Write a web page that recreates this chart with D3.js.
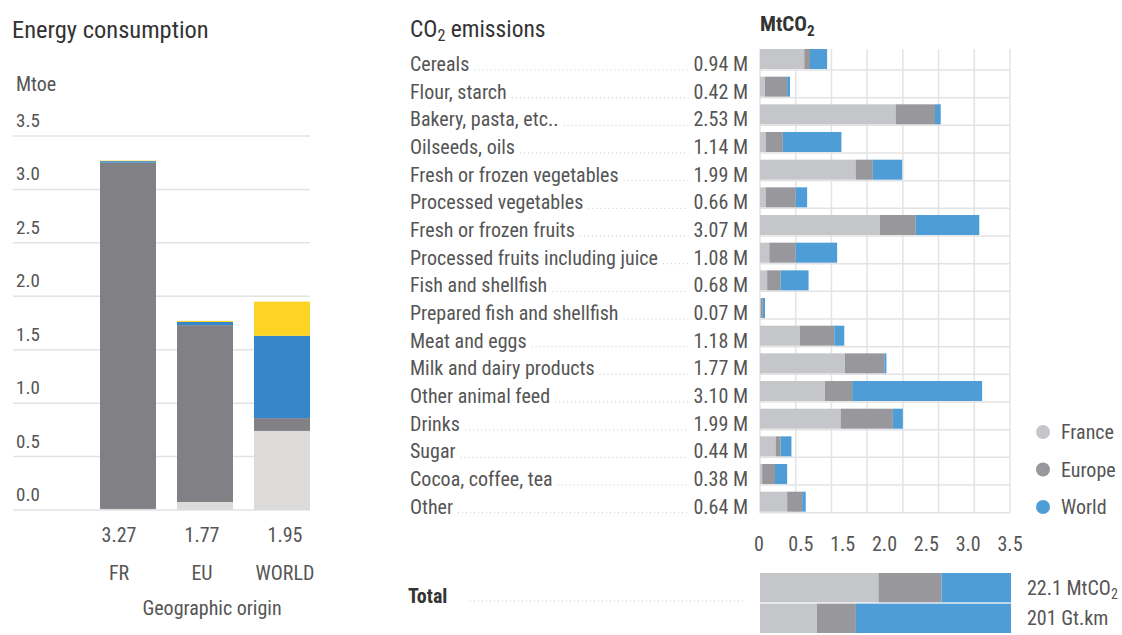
<!DOCTYPE html>
<html><head><meta charset="utf-8">
<script src="https://cdn.jsdelivr.net/npm/d3@7"></script>
<style>
body{margin:0;background:#fff;}
svg text{font-family:"Roboto Condensed","Liberation Sans Narrow","Arial Narrow","Roboto",sans-serif;}
</style></head><body>
<svg id="c" width="1122" height="635"></svg>
<script>
// ---------- data ----------
const energyOrigins = ["FR", "EU", "WORLD"];
const energyTotals = ["3.27", "1.77", "1.95"];
const energyLight = [0.01, 0.075, 0.74];
const energyGrey = [3.24, 1.655, 0.12];
const energyBlue = [0.015, 0.03, 0.77];
const energyYellow = [0.005, 0.01, 0.32];
const energyTicks = [0, 0.5, 1, 1.5, 2, 2.5, 3, 3.5];
const energyTickLabels = ["0.0", "0.5", "1.0", "1.5", "2.0", "2.5", "3.0", "3.5"];

const co2Categories = ["Cereals", "Flour, starch", "Bakery, pasta, etc..", "Oilseeds, oils",
  "Fresh or frozen vegetables", "Processed vegetables", "Fresh or frozen fruits",
  "Processed fruits including juice", "Fish and shellfish", "Prepared fish and shellfish",
  "Meat and eggs", "Milk and dairy products", "Other animal feed", "Drinks", "Sugar",
  "Cocoa, coffee, tea", "Other"];
const co2Labels = ["0.94 M", "0.42 M", "2.53 M", "1.14 M", "1.99 M", "0.66 M", "3.07 M", "1.08 M",
  "0.68 M", "0.07 M", "1.18 M", "1.77 M", "3.10 M", "1.99 M", "0.44 M", "0.38 M", "0.64 M"];
const co2France = [0.62, 0.07, 1.90, 0.08, 1.34, 0.08, 1.68, 0.13, 0.10, 0.01, 0.56, 1.19, 0.91, 1.13, 0.22, 0.03, 0.38];
const co2Europe = [0.08, 0.31, 0.55, 0.24, 0.24, 0.42, 0.50, 0.37, 0.19, 0.03, 0.48, 0.55, 0.38, 0.73, 0.07, 0.18, 0.21];
const co2World  = [0.24, 0.04, 0.08, 0.82, 0.41, 0.16, 0.89, 0.58, 0.39, 0.03, 0.14, 0.03, 1.82, 0.14, 0.15, 0.17, 0.05];
const co2Grid = [0, 0.5, 1, 1.5, 2, 2.5, 3, 3.5];
const co2AxisLabels = ["0", "0.5", "1.5", "2.0", "2.5", "3.0", "3.5"];
const legendKeys = ["France", "Europe", "World"];

const totalKeys = ["co2", "tkm"];
const totalValues = ["22.1", "201"];
const totalUnits = ["MtCO2", "Gt.km"];
const totalFrance = [10.43, 45.6];
const totalEurope = [5.55, 31.2];
const totalWorld  = [6.12, 124.2];

// ---------- styles ----------
const cLight = "#dcdbd9", cGreyE = "#818085", cBlueE = "#3587c9", cYellow = "#fdd324";
const cFr = "#c5c6c9", cEu = "#98979c", cWo = "#4e9dd6";
const grid = "#e3e3e3", txt = "#555", dark = "#333";

const svg = d3.select("#c");

// ---------- Energy consumption ----------
svg.append("text").attr("x", 12).attr("y", 38).attr("font-size", 24.5).attr("fill", dark).text("Energy consumption");
svg.append("text").attr("x", 16).attr("y", 91).attr("font-size", 20).attr("fill", txt).text("Mtoe");

const yE = d3.scaleLinear().domain([0, 3.5]).range([510, 136]);
const xE = d3.scaleBand().domain(energyOrigins).range([100, 310]).paddingInner(0.273).paddingOuter(0);
const xELab = d3.scalePoint().domain(energyOrigins).range([119, 285]);

const gE = svg.append("g");
gE.selectAll("line.g").data(energyTicks).join("line")
  .attr("x1", 13).attr("x2", 310).attr("y1", d => yE(d)).attr("y2", d => yE(d))
  .attr("stroke", grid).attr("stroke-width", 1.5);
gE.selectAll("text.t").data(energyTicks).join("text")
  .attr("x", 16).attr("y", d => yE(d) - 9).attr("font-size", 19).attr("fill", txt)
  .text((d, i) => energyTickLabels[i]);

const eSeries = [energyLight, energyGrey, energyBlue, energyYellow];
const eColors = [cLight, cGreyE, cBlueE, cYellow];
energyOrigins.forEach((o, i) => {
  let acc = 0;
  eSeries.forEach((s, k) => {
    const v = s[i];
    gE.append("rect").attr("x", xE(o)).attr("width", xE.bandwidth())
      .attr("y", yE(acc + v)).attr("height", yE(acc) - yE(acc + v)).attr("fill", eColors[k]);
    acc += v;
  });
});
gE.selectAll("text.v").data(energyOrigins).join("text")
  .attr("x", d => xELab(d)).attr("y", 542).attr("text-anchor", "middle")
  .attr("font-size", 20).attr("fill", txt).text((d, i) => energyTotals[i]);
gE.selectAll("text.c").data(energyOrigins).join("text")
  .attr("x", d => xELab(d)).attr("y", 580).attr("text-anchor", "middle")
  .attr("font-size", 20).attr("fill", txt).text(d => d);
gE.append("text").attr("x", 212).attr("y", 615).attr("text-anchor", "middle")
  .attr("font-size", 20).attr("fill", txt).text("Geographic origin");

// ---------- CO2 emissions ----------
const t1 = svg.append("text").attr("x", 410).attr("y", 37).attr("font-size", 23.5).attr("fill", dark);
t1.append("tspan").text("CO");
t1.append("tspan").attr("font-size", 16).attr("dy", 4).text("2");
t1.append("tspan").attr("dy", -4).text(" emissions");

const t2 = svg.append("text").attr("x", 760).attr("y", 31).attr("font-size", 21).attr("font-weight", "bold").attr("fill", dark);
t2.append("tspan").text("MtCO");
t2.append("tspan").attr("font-size", 15).attr("dy", 5).text("2");

const xC = d3.scaleLinear().domain([0, 3.5]).range([760, 1010]);
const yC = d3.scaleBand().domain(co2Categories).range([49, 511.7]).paddingInner(0.277).paddingOuter(0);
const gC = svg.append("g");

gC.selectAll("line.v").data(co2Grid).join("line")
  .attr("x1", d => xC(d)).attr("x2", d => xC(d)).attr("y1", 49).attr("y2", 513)
  .attr("stroke", grid).attr("stroke-width", 1.5);
gC.selectAll("line.h").data(co2Categories).join("line")
  .attr("x1", 760).attr("x2", 1010).attr("y1", d => yC(d) + yC.bandwidth() + 1).attr("y2", d => yC(d) + yC.bandwidth() + 1)
  .attr("stroke", grid).attr("stroke-width", 1.5);

const cSeries = [co2France, co2Europe, co2World];
const cColors = [cFr, cEu, cWo];
co2Categories.forEach((c, i) => {
  let acc = 0;
  cSeries.forEach((s, k) => {
    const v = s[i];
    gC.append("rect").attr("x", xC(acc)).attr("width", xC(acc + v) - xC(acc))
      .attr("y", yC(c)).attr("height", yC.bandwidth()).attr("fill", cColors[k]);
    acc += v;
  });
});

co2Categories.forEach((c, i) => {
  const by = yC(c) + yC.bandwidth() + 2;
  const lab = gC.append("text").attr("x", 410).attr("y", by).attr("font-size", 20).attr("fill", txt).text(c);
  const val = gC.append("text").attr("x", 748).attr("y", by).attr("font-size", 20).attr("fill", txt)
    .attr("text-anchor", "end").text(co2Labels[i]);
  const lw = lab.node().getComputedTextLength();
  const vw = val.node().getComputedTextLength();
  gC.append("line").attr("x1", 410 + lw + 5).attr("x2", 748 - vw - 5).attr("y1", by - 1).attr("y2", by - 1)
    .attr("stroke", "#c8c8c8").attr("stroke-width", 1).attr("stroke-dasharray", "1,3");
});

const xLab = d3.scalePoint().domain(co2AxisLabels).range([759, 1010]);
gC.selectAll("text.ax").data(co2AxisLabels).join("text")
  .attr("x", d => xLab(d)).attr("y", 551).attr("text-anchor", "middle")
  .attr("font-size", 20).attr("fill", txt).text(d => d);

const lg = svg.append("g");
legendKeys.forEach((k, i) => {
  const y = 432 + i * 37.5;
  lg.append("circle").attr("cx", 1043).attr("cy", y).attr("r", 7).attr("fill", cColors[i]);
  lg.append("text").attr("x", 1061).attr("y", y + 7).attr("font-size", 20).attr("fill", txt).text(k);
});

// ---------- totals ----------
svg.append("text").attr("x", 408).attr("y", 603).attr("font-size", 20).attr("font-weight", "bold").attr("fill", dark).text("Total");
svg.append("line").attr("x1", 470).attr("x2", 745).attr("y1", 601).attr("y2", 601)
  .attr("stroke", "#c8c8c8").attr("stroke-width", 1).attr("stroke-dasharray", "1,3");
const yT = d3.scaleBand().domain(totalKeys).range([573, 633]).paddingInner(0.04);
const tSeries = [totalFrance, totalEurope, totalWorld];
totalKeys.forEach((k, i) => {
  const total = tSeries.reduce((a, s) => a + s[i], 0);
  const xT = d3.scaleLinear().domain([0, total]).range([760, 1011]);
  let acc = 0;
  tSeries.forEach((s, j) => {
    const v = s[i];
    svg.append("rect").attr("x", xT(acc)).attr("width", xT(acc + v) - xT(acc))
      .attr("y", yT(k)).attr("height", yT.bandwidth()).attr("fill", cColors[j]);
    acc += v;
  });
  const t = svg.append("text").attr("x", 1027).attr("y", yT(k) + yT.bandwidth() / 2 + 7)
    .attr("font-size", 20).attr("fill", txt);
  if (totalUnits[i] === "MtCO2") {
    t.append("tspan").text(totalValues[i] + " MtCO");
    t.append("tspan").attr("font-size", 14).attr("dy", 4).text("2");
  } else {
    t.text(totalValues[i] + " " + totalUnits[i]);
  }
});
</script>
</body></html>
